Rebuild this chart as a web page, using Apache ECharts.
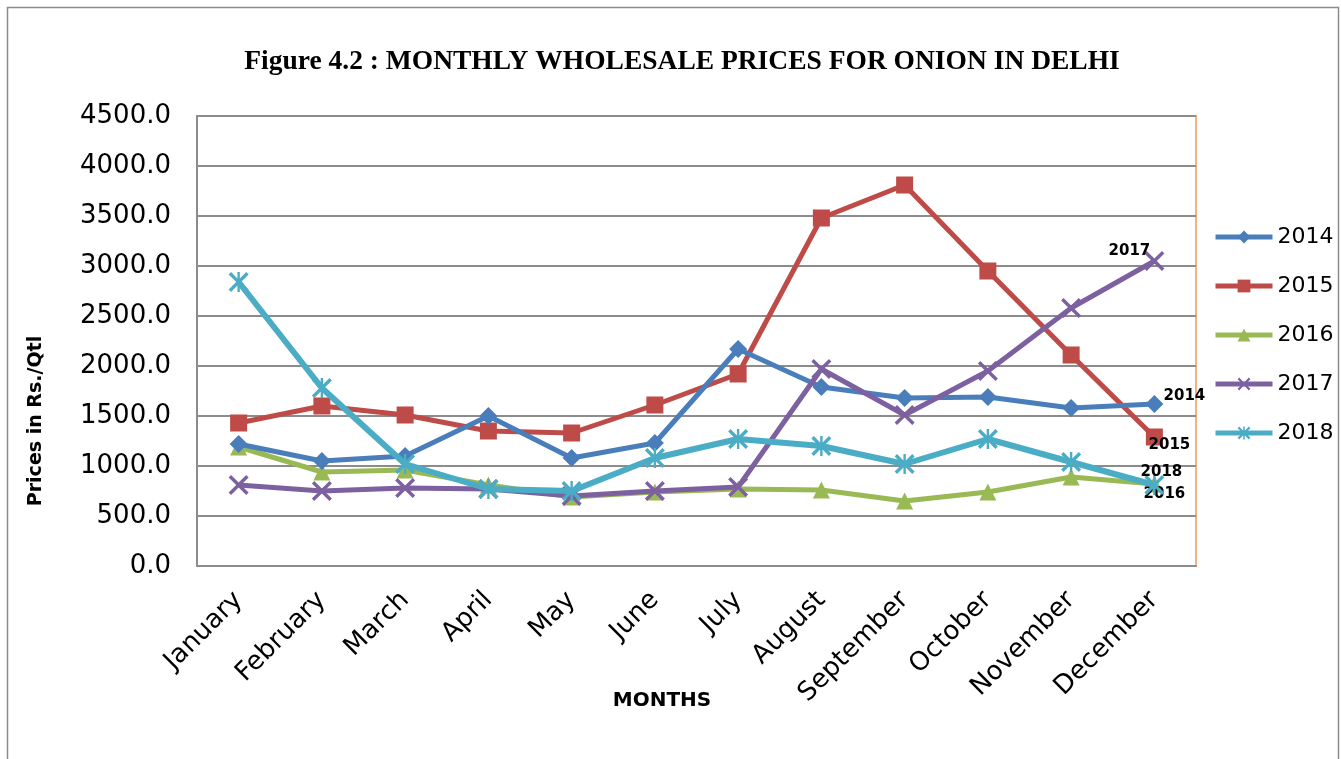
<!DOCTYPE html>
<html>
<head>
<meta charset="utf-8">
<script src="https://cdn.jsdelivr.net/npm/echarts@6/dist/echarts.min.js"></script>
<style>
html,body{margin:0;padding:0;background:#fff;}
#chart{width:1341px;height:759px;}
</style>
</head>
<body>
<div id="chart"></div>
<script>
const months = ["January","February","March","April","May","June","July","August","September","October","November","December"];
const years = ["2014","2015","2016","2017","2018"];
const v2014 = [1220,1050,1100,1500,1080,1230,2170,1790,1680,1690,1580,1620];
const v2015 = [1430,1600,1510,1350,1330,1610,1920,3480,3810,2950,2110,1290];
const v2016 = [1190,940,960,810,690,740,770,760,650,740,890,820];
const v2017 = [810,750,780,770,700,750,790,1970,1510,1950,2580,3050];
const v2018 = [2840,1780,1020,770,750,1080,1270,1200,1020,1270,1040,810];
const yMin = 0, yMax = 4500, yStep = 500;

const colors = ["#4A7EBB","#BE4B48","#98B954","#7D60A0","#4BACC6"];
const symX = 'path://M0,1.2L1.2,0L5,3.8L8.8,0L10,1.2L6.2,5L10,8.8L8.8,10L5,6.2L1.2,10L0,8.8L3.8,5Z';
const symStar = 'path://M0,1.2L1.2,0L4.4,3.2L4.4,0L5.6,0L5.6,3.2L8.8,0L10,1.2L6.2,5L10,8.8L8.8,10L5.6,6.8L5.6,10L4.4,10L4.4,6.8L1.2,10L0,8.8L3.8,5Z';
const symbols = ['diamond','rect','triangle',symX,symStar];
const symSizes = [18,17,17,20,20];
const endOffsets = [[30,-8],[15,8],[10,10],[-25,-10],[7,-13]];
const allVals = [v2014,v2015,v2016,v2017,v2018];

const series = years.map((y,i)=>({
  name:y,
  type:'line',
  data: allVals[i].map((v,j)=> j===allVals[i].length-1 ? {
      value:v,
      label:{show:true,formatter:y,position:'inside',offset:endOffsets[i],
        fontFamily:'DejaVu Sans',fontWeight:'bold',fontSize:15,color:'#000'}
    } : v),
  symbol:symbols[i],
  symbolSize:symSizes[i],
  showAllSymbol:true,
  lineStyle:{width: i===4?6:5, color:colors[i]},
  itemStyle:{color:colors[i], borderWidth:0},
  emphasis:{disabled:true},
  z: [3,2,1,4,5][i]
}));

const chart = echarts.init(document.getElementById('chart'),null,{renderer:'canvas'});
chart.setOption({
  animation:false,
  backgroundColor:'#fff',
  title:{
    text:'Figure 4.2 : MONTHLY WHOLESALE PRICES FOR ONION IN DELHI',
    left:677, top:43, textAlign:'center',
    textStyle:{fontFamily:'Liberation Serif',fontWeight:'bold',fontSize:27.5,color:'#000'}
  },
  legend:{
    orient:'vertical', left:1208, top:220,
    itemWidth:57, itemHeight:16, itemGap:25,
    lineStyle:{width:5},
    textStyle:{fontFamily:'DejaVu Sans',fontSize:22,color:'#000',lineHeight:24},
    data:years
  },
  grid:{left:197, top:116, right:145, bottom:193, show:true, borderColor:'#F4B183', borderWidth:2, backgroundColor:'transparent'},
  xAxis:{
    type:'category', data:months, boundaryGap:true,
    axisLine:{lineStyle:{color:'#8C8C8C',width:2}},
    axisTick:{show:false},
    axisLabel:{rotate:45, fontFamily:'DejaVu Sans', fontSize:26, color:'#000', margin:30, interval:0}
  },
  yAxis:{
    type:'value', min:yMin, max:yMax, interval:yStep,
    axisLine:{show:true,lineStyle:{color:'#8C8C8C',width:2}},
    axisTick:{show:false},
    splitLine:{lineStyle:{color:'#8C8C8C',width:2}},
    axisLabel:{fontFamily:'DejaVu Sans', fontSize:26, color:'#000', margin:26, formatter:v=>v.toFixed(1)}
  },
  graphic:[
    {type:'rect', shape:{x:7.5,y:7.5,width:1331,height:800}, style:{fill:null, stroke:'#8C8C8C', lineWidth:1.5}, silent:true, z:-10},
    {type:'text', x:36, y:421, rotation:Math.PI/2, style:{text:'Prices in Rs./Qtl', font:'bold 19px "DejaVu Sans"', fill:'#000', textAlign:'center', textVerticalAlign:'middle'}},
    {type:'text', x:662, y:701, style:{text:'MONTHS', font:'bold 20px "DejaVu Sans"', fill:'#000', textAlign:'center', textVerticalAlign:'middle'}}
  ],
  series:series
});
</script>
</body>
</html>
